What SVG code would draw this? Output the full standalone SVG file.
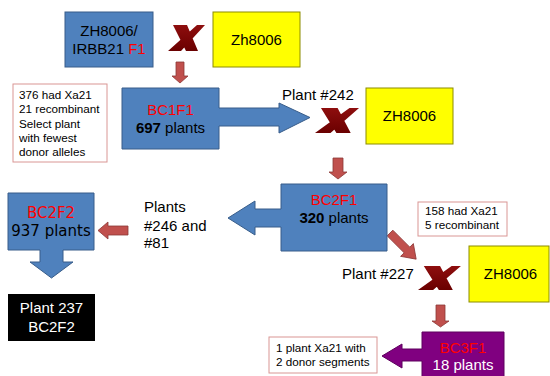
<svg xmlns="http://www.w3.org/2000/svg" width="550" height="376" viewBox="0 0 550 376">
<defs>
<linearGradient id="xg" x1="0" y1="0" x2="0" y2="1">
<stop offset="0" stop-color="#8e0e0e"/>
<stop offset="1" stop-color="#6a0000"/>
</linearGradient>
<path id="xm" d="M5,0 L19,0 L30,26 L18,26 Z M29,0 L37,0 L13,26 L0,26 Z" fill="url(#xg)"/>
</defs>
<style>
text{font-family:"Liberation Sans",Arial,sans-serif;font-size:15px;fill:#000}
.c{text-anchor:middle}
.r{fill:#ff0000}
.w{fill:#ffffff}
.b{font-weight:bold}
.s{font-size:11.7px}
.dv{font-family:"DejaVu Sans",sans-serif}
.blue{fill:#4f81bd;stroke:#385d8a;stroke-width:1}
.yel{fill:#ffff00;stroke:#8c8c00;stroke-width:1}
.note{fill:#ffffff;stroke:#d99694;stroke-width:1}
.ra{fill:#c0504d;stroke:#8c3836;stroke-width:0.8}
</style>
<rect width="550" height="376" fill="#ffffff"/>

<g id="connectors">
<path class="ra" d="M176,62 H184 V76 H188 L180,83 L172,76 H176 Z"/>
<path class="ra" d="M333,158 H343 V172 H347 L338,179 L329,172 H333 Z"/>
<path class="ra" d="M436,305 H445 V321 H449 L440.5,327 L432,321 H436 Z"/>
<path class="ra" d="M128,226 V235 H108 V239 L98,230.5 L108,222 V226 Z"/>
<path class="ra" transform="translate(390,233) rotate(45)" d="M0,-4 H24 V-9 L37,0 L24,9 V4 H0 Z"/>
</g>

<g id="f1">
<rect class="blue" x="65" y="12" width="88" height="55"/>
<text class="c" x="109" y="36">ZH8006/</text>
<text class="c" x="109" y="54">IRBB21 <tspan class="r">F1</tspan></text>
</g>
<g id="cross1"><use href="#xm" transform="translate(168,25)"/></g>
<g id="zh1">
<rect class="yel" x="213" y="12" width="87" height="55"/>
<text class="c" x="256.5" y="45">Zh8006</text>
</g>

<g id="note1">
<rect class="note" x="13" y="84" width="94" height="78"/>
<text class="s" x="19" y="99">376 had Xa21</text>
<text class="s" x="19" y="113.3">21 recombinant</text>
<text class="s" x="19" y="127.7">Select plant</text>
<text class="s" x="19" y="142">with fewest</text>
<text class="s" x="19" y="156">donor alleles</text>
</g>

<g id="bc1f1">
<path class="blue" d="M122,88 H219 V108 H279 V103 L310,117.5 L279,133 V126 H219 V149 H122 Z"/>
<text class="c r" x="170.5" y="115">BC1F1</text>
<text class="c" x="170.5" y="133"><tspan class="b">697</tspan> plants</text>
</g>

<g id="p242"><text x="282" y="100">Plant #242</text></g>
<g id="cross2"><use href="#xm" transform="translate(315,108) scale(1.19,0.96)"/></g>
<g id="zh2">
<rect class="yel" x="366" y="88" width="87" height="56"/>
<text class="c" x="409.5" y="121">ZH8006</text>
</g>

<g id="bc2f1">
<path class="blue" d="M387,184 V251 H281 V227 H255 V235 L228,218 L255,201 V209 H281 V184 Z"/>
<text class="c r" x="334" y="205">BC2F1</text>
<text class="c" x="334" y="223"><tspan class="b">320</tspan> plants</text>
</g>

<g id="p246">
<text x="144" y="212">Plants</text>
<text x="144" y="231">#246 and</text>
<text x="144" y="248">#81</text>
</g>

<g id="bc2f2">
<path class="blue" d="M8,193 H94 V250 H63 V262 H73 L51.5,278 L30,262 H40 V250 H8 Z"/>
<text class="c r dv" x="51" y="218">BC2F2</text>
<text class="c dv" x="51" y="236">937 plants</text>
</g>

<g id="plant237">
<rect x="8" y="294" width="87" height="47" fill="#000000"/>
<text class="c w" x="51.5" y="313">Plant 237</text>
<text class="c w" x="51.5" y="332">BC2F2</text>
</g>

<g id="note2">
<rect class="note" x="418" y="202" width="89" height="34"/>
<text class="s" x="425" y="215">158 had Xa21</text>
<text class="s" x="425" y="229">5 recombinant</text>
</g>

<g id="p227"><text x="342" y="279">Plant #227</text></g>
<g id="cross3"><use href="#xm" transform="translate(418,266) scale(1.16,0.92)"/></g>
<g id="zh3">
<rect class="yel" x="469" y="246" width="80" height="56"/>
<text class="c" x="510.5" y="279">ZH8006</text>
</g>

<g id="note3">
<rect class="note" x="269" y="337" width="108" height="36"/>
<text class="s" x="276" y="352">1 plant Xa21 with</text>
<text class="s" x="276" y="366">2 donor segments</text>
</g>

<g id="bc3f1">
<path d="M422,332 H504 V380 H422 V361 H402 V368 L382,356 L402,344 V349 H422 Z" fill="#800080" stroke="#5e005e" stroke-width="1"/>
<text class="c r" x="463" y="353">BC3F1</text>
<text class="c w" x="463" y="370">18 plants</text>
</g>
</svg>
